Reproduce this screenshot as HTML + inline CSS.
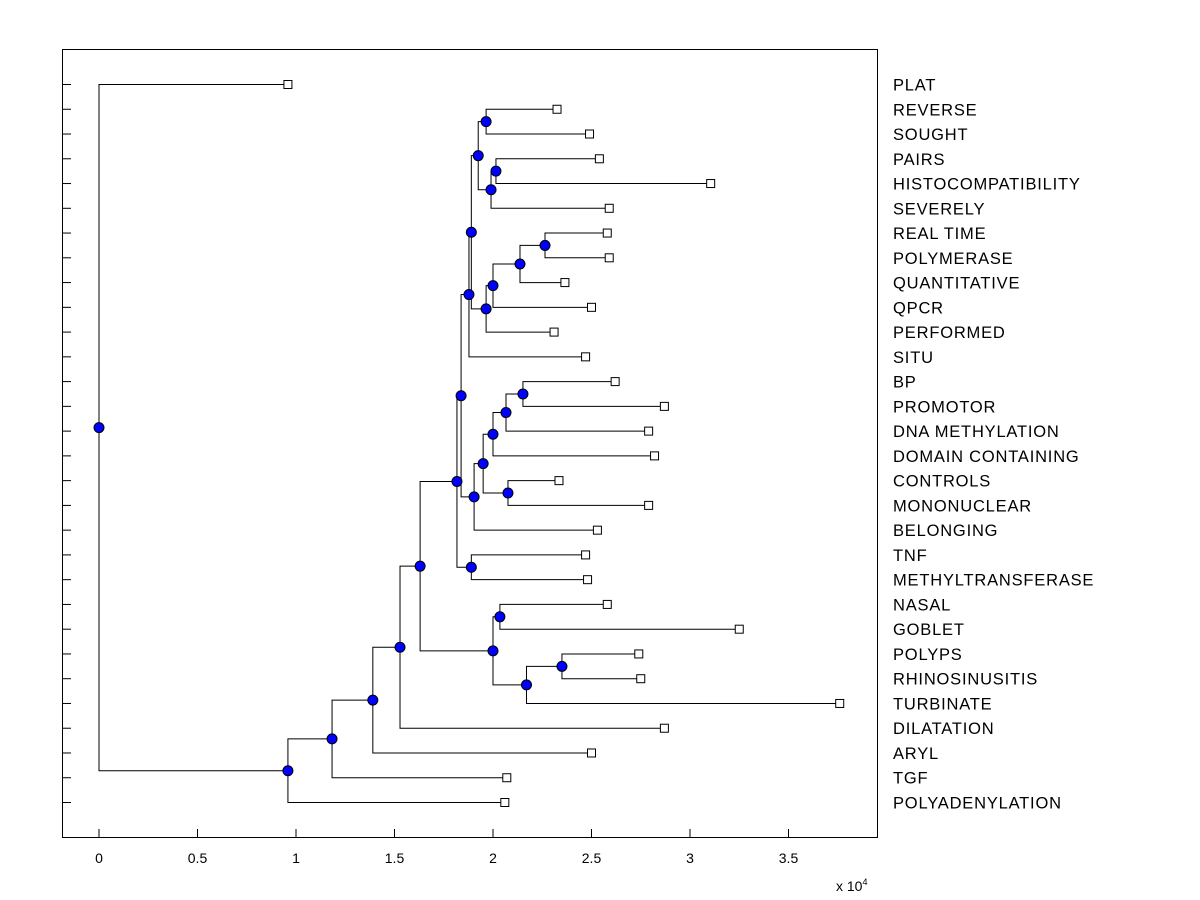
<!DOCTYPE html>
<html><head><meta charset="utf-8"><style>
body{margin:0;background:#fff;}
svg{display:block;font-family:"Liberation Sans",Arial,sans-serif;}
</style></head><body>
<svg id="chart" width="1200" height="900" viewBox="0 0 1200 900">
<rect x="62.5" y="49.5" width="815" height="788" fill="#fff" stroke="#000" stroke-width="1"/>
<g id="links"></g>
<g id="marks"></g>
<g id="axes"></g>
<text x="836" y="891" font-size="14">x 10<tspan dy="-6" font-size="9">4</tspan></text>
</svg>
<script>
const leafLabels = ["PLAT","REVERSE","SOUGHT","PAIRS","HISTOCOMPATIBILITY","SEVERELY","REAL TIME","POLYMERASE","QUANTITATIVE","QPCR","PERFORMED","SITU","BP","PROMOTOR","DNA METHYLATION","DOMAIN CONTAINING","CONTROLS","MONONUCLEAR","BELONGING","TNF","METHYLTRANSFERASE","NASAL","GOBLET","POLYPS","RHINOSINUSITIS","TURBINATE","DILATATION","ARYL","TGF","POLYADENYLATION"];
const leafValues = [0.959,2.325,2.49,2.54,3.105,2.59,2.58,2.59,2.365,2.50,2.31,2.47,2.62,2.87,2.79,2.82,2.335,2.79,2.53,2.47,2.48,2.58,3.25,2.74,2.75,3.76,2.87,2.50,2.07,2.06];
// internal nodes: [value, childA, childB]; child: "L<i>" leaf or "N<i>" node
const nodeValues = [0,0.959,1.183,1.39,1.528,1.63,2.0,2.035,2.17,2.35,1.817,1.89,1.838,1.878,1.89,1.925,1.965,1.99,2.015,1.965,2.0,2.137,2.264,1.904,1.95,2.0,2.066,2.152,2.076];
const nodeChildren = [["L0","N1"],["N2","L29"],["N3","L28"],["N4","L27"],["N5","L26"],["N10","N6"],["N7","N8"],["L21","L22"],["N9","L25"],["L23","L24"],["N12","N11"],["L19","L20"],["N13","N23"],["N14","L11"],["N15","N19"],["N16","N17"],["L1","L2"],["N18","L5"],["L3","L4"],["N20","L10"],["N21","L9"],["N22","L8"],["L6","L7"],["N24","L18"],["N25","N28"],["N26","L15"],["N27","L14"],["L12","L13"],["L16","L17"]];
const xTicks = [0,0.5,1,1.5,2,2.5,3,3.5];
const xTickLabels = ["0","0.5","1","1.5","2","2.5","3","3.5"];

const NS="http://www.w3.org/2000/svg";
const X0=99, XS=197, Y0=84.5, YS=(802.5-84.5)/29;
const sx=v=>X0+v*XS, sy=i=>Y0+i*YS;
function mk(t,a,p){const e=document.createElementNS(NS,t);for(const k in a)e.setAttribute(k,a[k]);p.appendChild(e);return e;}
const links=document.getElementById('links'),marks=document.getElementById('marks'),axes=document.getElementById('axes');
function pos(c){const i=+c.slice(1);if(c[0]==='L')return {x:sx(leafValues[i]),y:sy(i)};return nodePos(i);}
const cache={};
function nodePos(i){if(cache[i])return cache[i];const a=pos(nodeChildren[i][0]),b=pos(nodeChildren[i][1]);const p={x:sx(nodeValues[i]),y:(a.y+b.y)/2,a,b};cache[i]=p;return p;}
for(let i=0;i<nodeValues.length;i++){
  const p=nodePos(i);
  const path=mk('path',{d:`M${p.a.x},${p.a.y}H${p.x}V${p.b.y}H${p.b.x}`,fill:'none',stroke:'#000','stroke-width':1},links);
  
  
}
for(let i=0;i<leafLabels.length;i++){
  const x=sx(leafValues[i]),y=sy(i);
  const r=mk('rect',{x:x-4,y:y-4,width:8,height:8,fill:'#fff',stroke:'#000'},marks);
  
  
  const t=mk('text',{x:893,y:y+6,'font-size':16.5,'letter-spacing':0.8},axes);t.textContent=leafLabels[i];
  
  
  const tk=mk('line',{x1:63,x2:71,y1:y,y2:y,stroke:'#000'},axes);
  
  
}
for(let i=0;i<nodeValues.length;i++){
  const p=nodePos(i);
  const c=mk('circle',{cx:p.x,cy:p.y,r:5,fill:'#0000ff',stroke:'#000'},marks);
  
  
}
xTicks.forEach((v,i)=>{
  const x=sx(v);
  const l=mk('line',{x1:x,x2:x,y1:837,y2:829,stroke:'#000'},axes);
  
  
  const t=mk('text',{x:x,y:863,'font-size':14,'text-anchor':'middle'},axes);t.textContent=xTickLabels[i];
  
  
});
</script>
</body></html>
